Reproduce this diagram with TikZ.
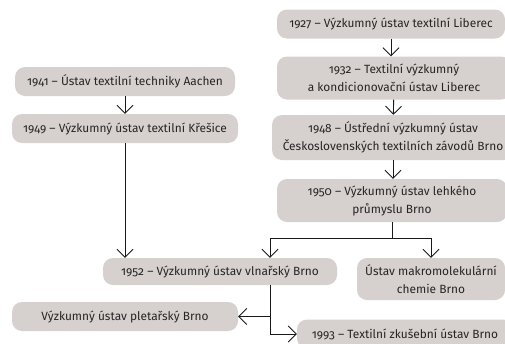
\documentclass[tikz,border=0pt]{standalone}
\usepackage{fontspec}
\setmainfont{Fira Sans}[Numbers=OldStyle]
\usepackage{tikz}
\usetikzlibrary{arrows.meta,positioning}
\definecolor{boxgray}{RGB}{214,208,207}
\definecolor{inkgray}{RGB}{40,37,37}

\begin{document}
\begin{tikzpicture}[x=1pt,y=-1pt,
  box/.style={fill=boxgray,rounded corners=10pt,align=center,text=inkgray,
    font=\fontsize{11.9}{18}\selectfont,inner sep=0pt,minimum height=29pt},
  twoline/.style={box,minimum height=43pt},
  conn/.style={draw=black!90,line width=0.9pt,-{Straight Barb[length=8pt,width=16pt]}}]
\clip (0,0) rectangle (505,343);
\useasboundingbox (0,0) rectangle (505,343);

% right column
\node[box,minimum width=228pt] (n1927) at (391,24) {1927 -- Výzkumný ústav textilní Liberec};
\node[twoline,minimum width=234pt] (n1932) at (394,78) {1932 -- Textilní výzkumný\\a kondicionovační ústav Liberec};
\node[twoline,minimum width=242pt,minimum height=45pt] (n1948) at (393,137.5) {1948 -- Ústřední výzkumný ústav\\Československých textilních závodů Brno};
\node[twoline,minimum width=230pt] (n1950) at (392,200.5) {1950 -- Výzkumný ústav lehkého\\průmyslu Brno};

% left column
\node[box,minimum width=220pt] (n1941) at (125,81.5) {1941 -- Ústav textilní techniky Aachen};
\node[box,minimum width=226pt] (n1949) at (125,128.5) {1949 -- Výzkumný ústav textilní Křešice};

% lower part
\node[box,minimum width=234pt,minimum height=27pt] (n1952) at (220,271.5) {1952 -- Výzkumný ústav vlnařský Brno};
\node[twoline,minimum width=148pt,minimum height=42pt] (nmakro) at (431,279) {Ústav makromolekulární\\chemie Brno};
\node[box,minimum width=226pt] (npletar) at (125,316.5) {Výzkumný ústav pletařský Brno};
\node[box,minimum width=216pt] (n1993) at (405,334) {1993 -- Textilní zkušební ústav Brno};

\coordinate (fork) at (n1950.south |- 0,238);
\coordinate (wooldrop) at (270,238);

\draw[conn] (n1927) -- (n1927 |- n1932.north);
\draw[conn] (n1932) -- (n1948);
\draw[conn] (n1948.south) -- (n1948.south |- n1950.north);
\draw[conn] (n1941) -- (n1949);
\draw[conn] (n1949.south) -- (n1949.south |- n1952.north);
\draw[line width=0.9pt,draw=black!90] (n1950.south) -- (fork);
\draw[conn] (fork) -- (wooldrop) -- (wooldrop |- n1952.north);
\draw[conn] (fork) -| (nmakro.north);
\draw[conn] (n1952.south -| wooldrop) |- (npletar.east);
\draw[conn] (n1952.south -| wooldrop) |- (n1993.west);
\end{tikzpicture}
\end{document}
